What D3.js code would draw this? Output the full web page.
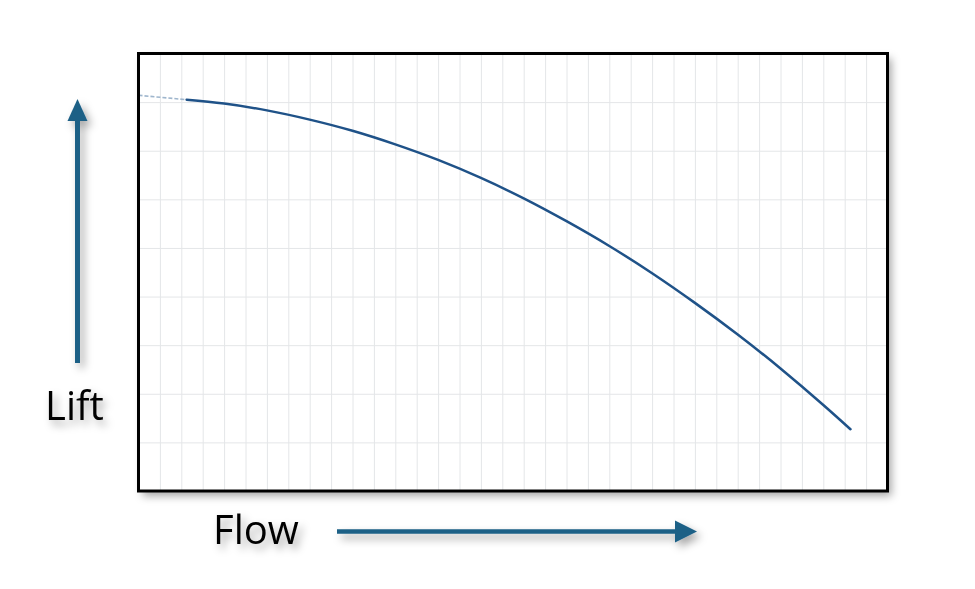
<!DOCTYPE html>
<html lang="en">
<head>
<meta charset="UTF-8">
<title>Lift vs Flow</title>
<style>
  body { margin: 0; background: #ffffff; }
  text { font-family: "Open Sans", "Noto Sans", sans-serif; }
</style>
</head>
<body>
<div id="chart"></div>
<script src="https://d3js.org/d3.v7.min.js"></script>
<script>
// pump curve (grid units: 35 columns of flow, 9 rows of lift)
var flow = [2.25, 4, 6, 8, 10, 12, 14, 16, 18, 20, 22, 24, 26, 28, 30, 32, 33.27];
var lift = [8.05, 7.97, 7.83, 7.64, 7.41, 7.13, 6.81, 6.44, 6.02, 5.55, 5.04, 4.48, 3.87, 3.22, 2.52, 1.77, 1.27];
// faint lead-in at the left edge
var leadFlow = [0, 2.25];
var leadLift = [8.14, 8.05];
var flowTicks = d3.range(0, 36);
var liftTicks = d3.range(0, 10);

var W = 975, H = 589;
var margin = {top: 53.5, right: 87.5, bottom: 98, left: 138.5},
    width = W - margin.left - margin.right,
    height = H - margin.top - margin.bottom;

var svg = d3.select("#chart").append("svg")
    .attr("width", W)
    .attr("height", H);

var defs = svg.append("defs");
var shadow = defs.append("filter").attr("id", "shadow")
    .attr("x", "-20%").attr("y", "-20%").attr("width", "140%").attr("height", "140%");
shadow.append("feDropShadow")
    .attr("dx", 4).attr("dy", 5).attr("stdDeviation", 4)
    .attr("flood-color", "#000").attr("flood-opacity", 0.35);

var g = svg.append("g")
    .attr("transform", "translate(" + margin.left + "," + margin.top + ")");

var x = d3.scaleLinear().domain([0, 35]).range([0, width]);
var y = d3.scaleLinear().domain([0, 9]).range([height, 0]);

// plot box with shadow
g.append("rect")
    .attr("width", width).attr("height", height)
    .attr("fill", "#fff")
    .attr("filter", "url(#shadow)");

// grid
g.append("g")
    .attr("transform", "translate(0," + height + ")")
    .call(d3.axisBottom(x).tickValues(flowTicks).tickSize(-height).tickFormat(""))
    .call(function(a) {
      a.select(".domain").remove();
      a.selectAll("line").attr("stroke", "#e4e6e8").attr("stroke-width", 1);
    });
g.append("g")
    .call(d3.axisLeft(y).tickValues(liftTicks).tickSize(-width).tickFormat(""))
    .call(function(a) {
      a.select(".domain").remove();
      a.selectAll("line").attr("stroke", "#e4e6e8").attr("stroke-width", 1);
    });

var line = d3.line()
    .x(function(d) { return x(d[0]); })
    .y(function(d) { return y(d[1]); })
    .curve(d3.curveNatural);

g.append("path")
    .datum(d3.zip(leadFlow, leadLift))
    .attr("fill", "none")
    .attr("stroke", "#9fb6cd")
    .attr("stroke-width", 1.6)
    .attr("stroke-dasharray", "4,2")
    .attr("d", line);

g.append("path")
    .datum(d3.zip(flow, lift))
    .attr("fill", "none")
    .attr("stroke", "#1f5288")
    .attr("stroke-width", 2.5)
    .attr("stroke-linecap", "round")
    .attr("d", line);

// frame
g.append("rect")
    .attr("width", width).attr("height", height)
    .attr("fill", "none")
    .attr("stroke", "#000")
    .attr("stroke-width", 3);

// axis arrows
var arrowColor = "#1c6086";
var lab = svg.append("g").attr("filter", "url(#shadow)");

lab.append("line")
    .attr("x1", 77.5).attr("y1", 363).attr("x2", 77.5).attr("y2", 118)
    .attr("stroke", arrowColor).attr("stroke-width", 5);
lab.append("path")
    .attr("d", "M77.5,99 L87.5,121 L67.5,121 Z")
    .attr("fill", arrowColor);

lab.append("line")
    .attr("x1", 337).attr("y1", 531.5).attr("x2", 677).attr("y2", 531.5)
    .attr("stroke", arrowColor).attr("stroke-width", 4.5);
lab.append("path")
    .attr("d", "M697,531.5 L675,520.5 L675,542.5 Z")
    .attr("fill", arrowColor);

lab.append("text")
    .attr("x", 45).attr("y", 419.5)
    .attr("font-size", 40)
    .attr("fill", "#000")
    .text("Lift");

lab.append("text")
    .attr("x", 213).attr("y", 543.5)
    .attr("font-size", 40)
    .attr("fill", "#000")
    .text("Flow");
</script>
</body>
</html>
